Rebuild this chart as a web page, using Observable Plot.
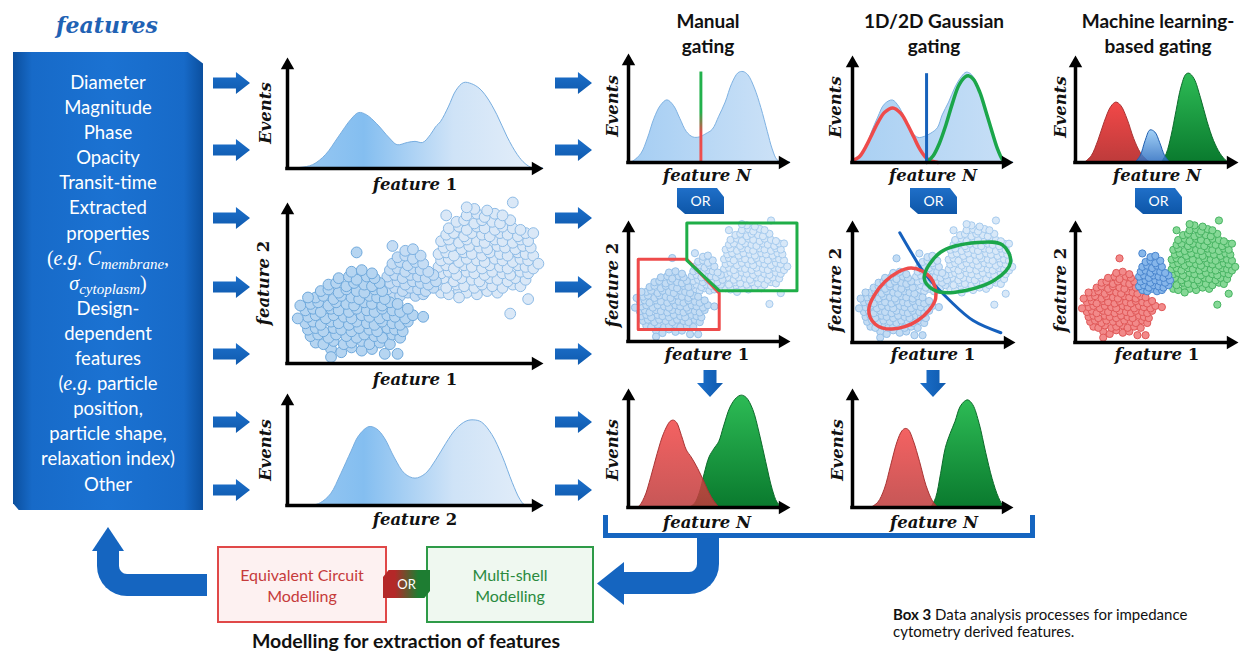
<!DOCTYPE html>
<html><head><meta charset="utf-8">
<script src="https://cdn.jsdelivr.net/npm/d3@7"></script>
<script src="https://cdn.jsdelivr.net/npm/@observablehq/plot@0.6"></script>
<style>
body{margin:0;background:#fff;}
#root{position:relative;width:1244px;height:655px;overflow:hidden;background:#fff;font-family:Lato,"Noto Sans",sans-serif;color:#111;}
.arrowR{position:absolute;width:37px;height:22px;background:linear-gradient(#1c6fca,#0f5aae);clip-path:polygon(0 25%,62% 25%,62% 0,100% 50%,62% 100%,62% 75%,0 75%);}
.arrowD{position:absolute;width:26px;height:27px;background:linear-gradient(90deg,#1c6fca,#0f5aae);clip-path:polygon(25% 0,75% 0,75% 48%,100% 48%,50% 100%,0 48%,25% 48%);}
.orb{position:absolute;width:47px;height:26px;background:linear-gradient(#1f6fc8,#0d56a8);clip-path:polygon(0 0,85% 0,100% 35%,100% 100%,17% 100%,0 73%);color:#fff;font-size:14px;line-height:26px;text-align:center;}
.lbl{position:absolute;font-family:"DejaVu Serif",serif;font-style:italic;font-weight:bold;font-size:16.5px;white-space:nowrap;transform:translate(-50%,-50%);color:#111;}
.lbl.rot{transform:translate(-50%,-50%) rotate(-90deg);}
.lbl b{font-style:normal;}
.title{position:absolute;transform:translate(-50%,-50%);font-weight:bold;font-size:19px;white-space:nowrap;color:#111;}
#box{position:absolute;left:13px;top:52px;width:190px;height:458px;background:linear-gradient(90deg,#0b4f9e 0%,#176ac8 10%,#1b72d2 50%,#176ac8 90%,#0b4f9e 100%);clip-path:polygon(0 0,92% 0,100% 2.5%,100% 100%,3% 100%,0 98.5%);color:#fff;text-align:center;font-size:18.5px;line-height:25.1px;padding-top:18px;box-sizing:border-box;}
#box .m{font-family:"Liberation Serif",serif;font-size:20px;}
#box sub{font-size:15px;vertical-align:-4px;line-height:0;}
.mbox{position:absolute;top:546px;height:77px;box-sizing:border-box;border:2px solid;text-align:center;font-size:16px;line-height:21px;padding-top:16px;}
</style></head>
<body>
<svg width="0" height="0" style="position:absolute">
<defs>
<linearGradient id="gBlueH" x1="0" x2="1" y1="0" y2="0"><stop offset="0" stop-color="#9ccaf2"/><stop offset="0.3" stop-color="#84bef0"/><stop offset="0.65" stop-color="#cfe3f7"/><stop offset="1" stop-color="#e6eff9"/></linearGradient>
<linearGradient id="gBlueM" x1="0" x2="1" y1="0" y2="0"><stop offset="0" stop-color="#a4cdf3"/><stop offset="1" stop-color="#cfe3f7"/></linearGradient>
<linearGradient id="gBlueG" x1="0" x2="1" y1="0" y2="0"><stop offset="0" stop-color="#a9d0f3"/><stop offset="1" stop-color="#c8dff6"/></linearGradient>
<linearGradient id="gRed" x1="0" x2="0" y1="0" y2="1"><stop offset="0" stop-color="#f24848"/><stop offset="1" stop-color="#bd3b3b"/></linearGradient>
<linearGradient id="gGreen" x1="0" x2="0" y1="0" y2="1"><stop offset="0" stop-color="#2dbb55"/><stop offset="1" stop-color="#0a7a2e"/></linearGradient>
<linearGradient id="gBlueML" x1="0" x2="0" y1="0" y2="1"><stop offset="0" stop-color="#92c8f5"/><stop offset="1" stop-color="#2a6cc0"/></linearGradient>
<linearGradient id="gGate" x1="0" x2="0" y1="0" y2="1"><stop offset="0" stop-color="#22b14c"/><stop offset="0.45" stop-color="#22b14c"/><stop offset="0.68" stop-color="#e84a4a"/><stop offset="1" stop-color="#f05050"/></linearGradient>
</defs></svg>
<div id="root"></div>
<script>
// ---------------- DATA ----------------
const featureList = ["Diameter","Magnitude","Phase","Opacity","Transit-time","Extracted","properties"];
const designList = ["Design-","dependent","features"];
const columnTitles = [["Manual","gating"],["1D/2D Gaussian","gating"],["Machine learning-","based gating"]];
const captionBold = "Box 3";
const captionText = [" Data analysis processes for impedance","cytometry derived features."];

// density curves: [feature value, events]
const feature1Density = [[0,0],[5,0.5],[10,3],[15,12],[20,28],[25,44],[28,50],[31,48],[35,40],[40,27],[43,21],[47,23],[50,24],[53,23],[56,30],[58,37],[60,42],[63,55],[66,70],[69,77],[72,76],[75,72],[78,64],[82,48],[86,28],[90,12],[93,4],[96,0],[100,0]];
const feature2Density = [[0,0],[10,0],[13,2],[17,10],[21,28],[25,48],[28,62],[32,70],[35,68],[38,60],[42,42],[46,28],[50,24],[54,28],[58,40],[62,55],[66,68],[70,75],[73,76],[76,74],[80,63],[84,44],[88,20],[91,5],[93,0],[100,0]];
const manualDensity = [[0,0],[3,1],[8,8],[12,22],[16,40],[20,52],[24,57],[28,52],[32,40],[36,28],[40,23],[44,23],[48,26],[52,30],[56,42],[60,55],[64,72],[68,82],[71,83],[74,80],[78,68],[82,50],[86,28],[89,12],[92,2],[95,0],[100,0]];
const manualGate = 45;
const gaussDensity = [[0,0],[3,2],[8,12],[12,28],[16,42],[20,54],[25,58],[29,52],[33,40],[37,28],[41,23],[45,24],[49,27],[53,32],[56,44],[60,56],[64,70],[68,80],[71,84],[74,82],[78,72],[82,55],[86,35],[90,15],[93,4],[96,0],[100,0]];
const gaussFitRed = [[0,2],[4,5],[8,14],[12,26],[16,38],[20,47],[25,51],[30,46],[34,36],[38,24],[42,12],[46,4],[50,1],[53,0]];
const gaussFitGreen = [[46,0],[50,6],[54,18],[58,35],[62,55],[66,72],[70,80],[72,81],[75,78],[79,66],[83,47],[87,27],[90,13],[93,3],[95,0]];
const gaussGate = 46;
const mlRed = [[6,0],[10,6],[14,20],[18,38],[22,52],[25,56],[28,53],[32,40],[36,22],[40,9],[44,2],[46,0]];
const mlBlue = [[37,0],[40,6],[43,20],[46,30],[49,28],[52,18],[55,6],[58,0]];
const mlGreen = [[53,0],[56,8],[59,25],[62,48],[65,70],[68,82],[70,83],[73,78],[77,60],[81,38],[85,20],[89,8],[93,1],[95,0]];
const manualRed = [[0,0],[6,0],[10,8],[14,25],[18,45],[22,62],[26,72],[28,73],[30,71],[33,60],[36,48],[39,42],[42,35],[46,24],[50,12],[53,5],[56,0]];
const manualGreen = [[38,0],[41,3],[44,12],[47,28],[50,42],[53,49],[56,55],[59,68],[63,84],[67,92],[70,94],[73,92],[77,82],[81,62],[85,38],[89,15],[92,4],[95,0]];
const gaussRed = [[12,0],[16,4],[20,15],[24,35],[28,55],[31,64],[33,66],[35,65],[38,56],[42,38],[46,18],[50,5],[53,0]];
const gaussGreen = [[49,0],[52,8],[55,28],[58,50],[61,62],[64,72],[67,84],[70,89],[72,90],[75,86],[79,70],[83,46],[87,24],[91,8],[94,1],[96,0]];

// scatter cloud (feature 1, feature 2), three populations
const cloudLower = "17,9 21,7 25,10 29,8 33,9 38,6 17,4 43,6 " +
 "11,13 14,12 18,14 22,12 25,13 29,14 32,12 36,13 40,12 " +
 "9,17 12,18 16,16 19,18 23,17 27,16 30,18 34,17 37,16 41,18 44,16 " +
 "8,21 11,22 14,20 18,22 21,21 25,20 28,22 32,21 35,20 39,22 42,21 45,20 " +
 "7,25 10,26 13,24 17,26 20,25 24,24 27,26 31,25 34,24 37,26 41,25 44,24 47,26 " +
 "8,29 11,30 15,28 18,30 22,29 25,28 29,30 32,29 36,28 39,30 42,29 46,28 49,30 " +
 "7,33 10,34 13,32 17,34 20,33 24,32 27,34 31,33 34,32 37,34 41,33 44,32 47,34 " +
 "9,37 12,38 16,36 19,38 23,37 26,36 30,38 33,37 37,36 40,38 43,37 " +
 "11,41 14,42 18,40 21,42 25,41 28,40 32,42 35,41 38,40 " +
 "13,45 16,46 20,44 23,46 27,45 30,44 34,46 37,45 " +
 "16,49 19,50 23,48 26,50 30,49 33,48 36,50 " +
 "20,53 24,54 27,52 31,54 34,53 25,57 29,58 33,56 " +
 "8,41 53,29 27,69 5,36 4,28";
const cloudMiddle = "41,43 44,42 47,44 50,42 53,43 " +
 "39,46 42,47 45,45 48,47 51,46 54,45 57,47 " +
 "40,50 43,51 46,49 49,51 52,50 55,49 58,51 " +
 "39,54 42,55 45,53 48,55 51,54 54,53 57,55 " +
 "40,58 43,59 46,57 49,59 52,58 55,57 " +
 "41,62 44,63 47,61 50,63 53,62 43,66 46,67 49,65 52,67 46,70 49,71 41,73";
const cloudUpper = "60,44 63,43 67,45 70,44 74,43 78,45 82,44 " +
 "56,48 59,49 62,47 66,49 69,48 73,47 76,49 80,48 84,47 88,49 91,48 " +
 "58,52 61,53 65,51 68,53 72,52 75,51 79,53 82,52 86,51 89,53 93,52 " +
 "60,56 63,57 66,55 70,57 73,56 77,55 80,57 84,56 87,55 91,57 94,56 " +
 "59,60 62,61 65,59 69,61 72,60 76,59 79,61 83,60 86,59 90,61 93,60 96,59 " +
 "60,64 63,65 67,63 70,65 74,64 77,63 81,65 84,64 88,63 91,65 94,64 " +
 "59,68 62,69 65,67 69,69 72,68 76,67 79,69 83,68 86,67 90,69 93,68 96,67 " +
 "61,72 64,73 68,71 71,73 75,72 78,71 82,73 85,72 89,71 92,73 95,72 " +
 "60,76 63,77 67,75 70,77 74,76 77,75 81,77 84,76 88,75 91,77 94,76 " +
 "62,80 65,81 69,79 72,81 76,80 79,79 83,81 86,80 90,79 93,81 " +
 "63,84 67,85 70,83 74,85 77,84 81,83 84,85 88,84 91,83 " +
 "66,88 69,89 73,87 76,89 80,88 83,87 87,89 70,92 74,93 77,91 81,93 84,92 73,96 78,95 " +
 "88,100 94,40 87,31 96,81 67,41 62,92 70,97 98,62";

// gates (feature 1, feature 2)
const redGatePolygon = [[6,68],[36,68],[56,40],[56,10],[6,10]];
const greenGatePolygon = [[36,98],[104,98],[104,42],[56,42],[36,67]];
const redEllipse = [[10,27],[14,15],[24,11],[40,18],[51,36],[48,53],[36,61],[20,50]];
const greenEllipse = [[44,53],[50,43],[62,41],[87,51],[97,66],[92,80],[77,82],[54,74]];
const gaussBoundary = [[29,90],[36,74],[44,57],[60,34],[74,18],[91,8]];

// ---------------- HELPERS ----------------
const P = a => a.map(([x, y]) => ({x, y}));
const C = s => s.trim().split(/\s+/).map(p => { const [x, y] = p.split(",").map(Number); return {x, y}; });
const root = document.getElementById("root");
function el(tag, cls, css, html) {
  const e = document.createElement(tag);
  if (cls) e.className = cls;
  if (css) Object.assign(e.style, css);
  if (html != null) e.innerHTML = html;
  root.appendChild(e);
  return e;
}
function panel(ax0, ay0, ax1, ay1, marks) {
  const m = 18, W = ax1 - ax0, H = ay0 - ay1;
  const chart = Plot.plot({
    width: W + 2 * m, height: H + 2 * m, margin: m,
    x: {domain: [0, 100], axis: null}, y: {domain: [0, 100], axis: null},
    style: {overflow: "visible", background: "transparent"},
    marks: [
      ...marks,
      Plot.ruleX([0], {y1: 0, y2: 100 - 600 / H, stroke: "#000", strokeWidth: 3.5, strokeLinecap: "square"}),
      Plot.ruleY([0], {x1: 0, x2: 100 - 600 / W, stroke: "#000", strokeWidth: 3.5, strokeLinecap: "square"}),
      Plot.dot([{x: 0, y: 100}], {x: "x", y: "y", symbol: "triangle", r: 5, fill: "#000", dy: 7.8}),
      Plot.dot([{x: 100, y: 0}], {x: "x", y: "y", symbol: "triangle", r: 5, fill: "#000", rotate: 90, dx: -7.8})
    ]
  });
  Object.assign(chart.style, {position: "absolute", left: (ax0 - m) + "px", top: (ay1 - m) + "px"});
  root.appendChild(chart);
}
const area = (d, o) => Plot.areaY(P(d), {x: "x", y: "y", curve: "catmull-rom", ...o});
const dots = (s, r, fill, stroke) => Plot.dot(C(s), {x: "x", y: "y", r, fill, stroke, strokeWidth: 1});
const label = (x, y, html, rot) => el("div", "lbl" + (rot ? " rot" : ""), {left: x + "px", top: y + "px"}, html);
const FN = n => `feature <b>${n}</b>`;

// ---------------- LEFT BOX ----------------
el("div", null, {position: "absolute", left: "107px", top: "25px", transform: "translate(-50%,-50%)", fontFamily: "'DejaVu Serif',serif", fontStyle: "italic", fontWeight: "bold", fontSize: "22px", color: "#1f62b4", whiteSpace: "nowrap"}, "features");
const boxLines = [...featureList,
  `<span class="m">(<i>e.g.</i> <i>C</i><sub><i>membrane</i></sub>,</span>`,
  `<span class="m"><i>σ</i><sub><i>cytoplasm</i></sub>)</span>`,
  ...designList,
  `(<i class="m">e.g.</i> particle`, "position,", "particle shape,", "relaxation index)", "Other"];
const box = el("div", null, null, boxLines.join("<br>"));
box.id = "box";

// block arrows
const arrowRows = [83, 150, 218, 287, 354, 422, 490];
for (const y of arrowRows) {
  el("div", "arrowR", {left: "213px", top: (y - 11) + "px"});
  el("div", "arrowR", {left: "555px", top: (y - 11) + "px"});
}

// ---------------- FEATURE PANELS ----------------
panel(287, 168, 543, 57, [area(feature1Density, {fill: "url(#gBlueH)", stroke: "#78aee0", strokeWidth: 1})]);
label(265, 113, "Events", true); label(415, 184, FN(1));
panel(287, 363, 543, 202, [
  dots(cloudUpper, 5.4, "#dae8f7", "#8dbbe6"),
  dots(cloudMiddle, 5.4, "#c6ddf4", "#7fb2e2"),
  dots(cloudLower, 5.4, "#b6d5f1", "#6fa9dc")]);
label(263, 283, FN(2), true); label(415, 379, FN(1));
panel(287, 505, 543, 393, [area(feature2Density, {fill: "url(#gBlueH)", stroke: "#78aee0", strokeWidth: 1})]);
label(265, 450, "Events", true); label(415, 519, FN(2));

// ---------------- TITLES ----------------
const titleX = [708, 934, 1158];
columnTitles.forEach((t, i) => { el("div", "title", {left: titleX[i] + "px", top: "20px"}, t[0]); el("div", "title", {left: titleX[i] + "px", top: "45px"}, t[1]); });

// ---------------- MANUAL ----------------
panel(628, 162, 790, 53, [
  area(manualDensity, {fill: "url(#gBlueM)", stroke: "#7fb2e2", strokeWidth: 1}),
  Plot.rect([{}], {x1: manualGate - 0.9, x2: manualGate + 0.9, y1: 0, y2: 83, fill: "url(#gGate)"})]);
label(612, 106, "Events", true); label(707, 175, "feature <b><i>N</i></b>");
el("div", "orb", {left: "677px", top: "188px"}, "OR");
const lightDots = (r) => [dots(cloudUpper, r, "#d8e8f8", "#a6cbee"), dots(cloudMiddle, r, "#cfe3f7", "#9fc6eb"), dots(cloudLower, r, "#c3dcf4", "#96c0e8")];
panel(628, 341, 790, 220, [
  ...lightDots(3.6),
  Plot.line(P(redGatePolygon), {x: "x", y: "y", curve: "linear-closed", stroke: "#ee4b4b", strokeWidth: 3}),
  Plot.line(P(greenGatePolygon), {x: "x", y: "y", curve: "linear-closed", stroke: "#1fae48", strokeWidth: 3})]);
label(612, 285, FN(2), true); label(707, 354, FN(1));
el("div", "arrowD", {left: "697px", top: "370px"});
panel(628, 507, 790, 388, [
  area(manualGreen, {fill: "url(#gGreen)", stroke: "#0c6b2b", strokeWidth: 1}),
  area(manualRed, {fill: "url(#gRed)", fillOpacity: 0.86, stroke: "#a83434", strokeWidth: 1})]);
label(612, 450, "Events", true); label(707, 522, "feature <b><i>N</i></b>");

// ---------------- GAUSSIAN ----------------
panel(852, 162, 1013, 55, [
  area(gaussDensity, {fill: "url(#gBlueG)", stroke: "#7fb2e2", strokeWidth: 1}),
  Plot.line(P(gaussFitRed), {x: "x", y: "y", curve: "catmull-rom", stroke: "#ee4b4b", strokeWidth: 3.5}),
  Plot.line(P(gaussFitGreen), {x: "x", y: "y", curve: "catmull-rom", stroke: "#1ba64a", strokeWidth: 3.5}),
  Plot.ruleX([gaussGate], {y1: 0, y2: 83, stroke: "#1762bb", strokeWidth: 3})]);
label(835, 107, "Events", true); label(933, 175, "feature <b><i>N</i></b>");
el("div", "orb", {left: "910px", top: "188px"}, "OR");
panel(852, 342, 1015, 220, [
  ...lightDots(3.6),
  Plot.line(P(gaussBoundary), {x: "x", y: "y", curve: "catmull-rom", stroke: "#1560bd", strokeWidth: 3}),
  Plot.line(P(redEllipse), {x: "x", y: "y", curve: "catmull-rom-closed", stroke: "#ee4b4b", strokeWidth: 3.5}),
  Plot.line(P(greenEllipse), {x: "x", y: "y", curve: "catmull-rom-closed", stroke: "#1ba64a", strokeWidth: 3.5})]);
label(835, 290, FN(2), true); label(933, 354, FN(1));
el("div", "arrowD", {left: "920px", top: "370px"});
panel(852, 507, 1013, 388, [
  area(gaussGreen, {fill: "url(#gGreen)", stroke: "#0c6b2b", strokeWidth: 1}),
  area(gaussRed, {fill: "url(#gRed)", fillOpacity: 0.86, stroke: "#a83434", strokeWidth: 1})]);
label(837, 450, "Events", true); label(934, 522, "feature <b><i>N</i></b>");

// ---------------- MACHINE LEARNING ----------------
panel(1075, 162, 1238, 55, [
  area(mlRed, {fill: "url(#gRed)", stroke: "#a83434", strokeWidth: 1}),
  area(mlGreen, {fill: "url(#gGreen)", stroke: "#0c6b2b", strokeWidth: 1}),
  area(mlBlue, {fill: "url(#gBlueML)", fillOpacity: 0.85, stroke: "#1f5fb0", strokeWidth: 1})]);
label(1060, 107, "Events", true); label(1157, 175, "feature <b><i>N</i></b>");
el("div", "orb", {left: "1135px", top: "188px"}, "OR");
panel(1075, 342, 1238, 220, [
  dots(cloudUpper, 3.6, "#86d896", "#47b462"),
  dots(cloudLower, 3.6, "#f28a8a", "#e05858"),
  dots(cloudMiddle, 3.6, "#86b6ea", "#4a86cf")]);
label(1060, 290, FN(2), true); label(1157, 354, FN(1));

// ---------------- BOTTOM ----------------
el("div", null, {position: "absolute", left: "603px", top: "515px", width: "432px", height: "23px", boxSizing: "border-box", border: "5px solid #1565c0", borderTop: "none"});
el("div", null, {position: "absolute", left: "620px", top: "537px", width: "99px", height: "57px", boxSizing: "border-box", borderRight: "22px solid #1565c0", borderBottom: "22px solid #1565c0", borderBottomRightRadius: "30px"});
el("div", null, {position: "absolute", left: "597px", top: "562px", width: "27px", height: "43px", background: "#1565c0", clipPath: "polygon(100% 0,100% 100%,0 50%)"});
el("div", null, {position: "absolute", left: "97px", top: "548px", width: "110px", height: "48px", boxSizing: "border-box", borderLeft: "22px solid #1565c0", borderBottom: "22px solid #1565c0", borderBottomLeftRadius: "30px"});
el("div", null, {position: "absolute", left: "92px", top: "527px", width: "32px", height: "24px", background: "#1565c0", clipPath: "polygon(50% 0,100% 100%,0 100%)"});
el("div", "mbox", {left: "217px", width: "170px", borderColor: "#e04848", background: "#fdf1f1", color: "#c63b3b"}, "Equivalent Circuit<br>Modelling");
el("div", "mbox", {left: "426px", width: "168px", borderColor: "#2e9b48", background: "#eff8f0", color: "#2a8a3e"}, "Multi-shell<br>Modelling");
el("div", null, {position: "absolute", left: "383px", top: "570px", width: "47px", height: "28px", background: "linear-gradient(90deg,#b42828 25%,#1e7d32 75%)", clipPath: "polygon(12% 0,100% 0,100% 75%,88% 100%,0 100%,0 25%)", color: "#fff", fontSize: "13px", lineHeight: "28px", textAlign: "center"}, "OR");
el("div", "title", {left: "406px", top: "640px", fontSize: "19.5px"}, "Modelling for extraction of features");
el("div", null, {position: "absolute", left: "893px", top: "606px", fontSize: "15px", lineHeight: "16.5px", color: "#111", whiteSpace: "nowrap"}, `<b>${captionBold}</b>${captionText[0]}<br>${captionText[1]}`);
</script>
</body></html>
